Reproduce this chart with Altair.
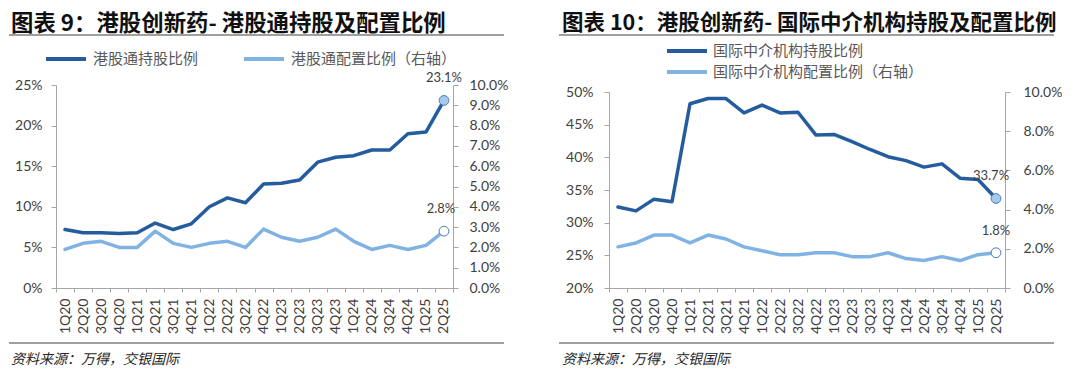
import altair as alt
import pandas as pd

quarters = ["1Q20", "2Q20", "3Q20", "4Q20", "1Q21", "2Q21", "3Q21", "4Q21",
            "1Q22", "2Q22", "3Q22", "4Q22", "1Q23", "2Q23", "3Q23", "4Q23",
            "1Q24", "2Q24", "3Q24", "4Q24", "1Q25", "2Q25"]

# Chart 9: Southbound holdings (left axis) and allocation (right axis), %
sb_hold = [7.2, 6.8, 6.8, 6.7, 6.8, 8.0, 7.2, 7.9, 10.0, 11.1, 10.5, 12.8,
           12.9, 13.3, 15.5, 16.1, 16.3, 17.0, 17.0, 19.0, 19.2, 23.1]
sb_alloc = [1.9, 2.2, 2.3, 2.0, 2.0, 2.8, 2.2, 2.0, 2.2, 2.3, 2.0, 2.9,
            2.5, 2.3, 2.5, 2.9, 2.3, 1.9, 2.1, 1.9, 2.1, 2.8]

# Chart 10: international brokers holdings (left axis) and allocation (right axis), %
intl_hold = [32.4, 31.8, 33.6, 33.2, 48.2, 49.0, 49.0, 46.8, 48.0, 46.8, 46.9, 43.4,
             43.5, 42.4, 41.2, 40.1, 39.5, 38.5, 39.0, 36.8, 36.6, 33.7]
intl_alloc = [2.1, 2.3, 2.7, 2.7, 2.3, 2.7, 2.5, 2.1, 1.9, 1.7, 1.7, 1.8,
              1.8, 1.6, 1.6, 1.8, 1.5, 1.4, 1.6, 1.4, 1.7, 1.8]

titles = ["图表 9：港股创新药- 港股通持股及配置比例",
          "图表 10：港股创新药- 国际中介机构持股及配置比例"]
series_names = [["港股通持股比例", "港股通配置比例（右轴）"],
                ["国际中介机构持股比例", "国际中介机构配置比例（右轴）"]]
left_ticks = [[0, 5, 10, 15, 20, 25], [20, 25, 30, 35, 40, 45, 50]]
right_ticks = [[0, 1, 2, 3, 4, 5, 6, 7, 8, 9, 10], [0, 2, 4, 6, 8, 10]]
source_text = "资料来源：万得，交银国际"

DARK = "#245C9E"
LIGHT = "#80B3E3"
AXIS_GREY = "#A6A6A6"
TXT = "#404040"
LEG_TXT = "#595959"
CJK = "Noto Sans CJK SC"
NUM = "Lato"


def long_df(s1, v1, s2, v2):
    rows = []
    for q, a in zip(quarters, v1):
        rows.append({"quarter": q, "series": s1, "value": a})
    for q, b in zip(quarters, v2):
        rows.append({"quarter": q, "series": s2, "value": b})
    return pd.DataFrame(rows)


def panel(title, tsize, s1, v1, s2, v2, ldom, lvals, rvals, yrange, width, height,
          legend_kw, title_x, rule_x1, rule_x2, lpad, dxs, manual_legend=None):
    df = long_df(s1, v1, s2, v2)
    x = alt.X("quarter:N", sort=quarters, bandPosition=0.5,
              scale=alt.Scale(type="band", paddingInner=0, paddingOuter=0),
              axis=alt.Axis(title=None, labelAngle=270, tickBand="extent",
                            domainColor=AXIS_GREY, tickColor=AXIS_GREY, tickSize=4,
                            labelPadding=6, labelFont=NUM, labelFontSize=14,
                            labelColor=TXT))
    if legend_kw is not None:
        legend = alt.Legend(title=None, orient="none", symbolType="stroke",
                            symbolSize=1600, symbolStrokeWidth=4,
                            labelFont=CJK, labelFontSize=15,
                            labelColor=LEG_TXT, labelOffset=5,
                            labelLimit=500, padding=0, **legend_kw)
    else:
        legend = None
    color = alt.Color("series:N",
                      scale=alt.Scale(domain=[s1, s2], range=[DARK, LIGHT]),
                      legend=legend)
    base = alt.Chart(df)

    yl = alt.Y("value:Q", scale=alt.Scale(domain=ldom, nice=False, zero=False, range=yrange),
               axis=alt.Axis(orient="left", values=lvals, labelExpr="datum.value + '%'",
                             title=None, grid=False, domainColor=AXIS_GREY,
                             tickColor=AXIS_GREY, tickSize=5, labelPadding=lpad,
                             labelFont=NUM, labelFontSize=14, labelColor=TXT))
    yr = alt.Y("value:Q", scale=alt.Scale(domain=[0, 10], nice=False, range=yrange),
               axis=alt.Axis(orient="right", values=rvals,
                             labelExpr="format(datum.value, '.1f') + '%'", title=None,
                             grid=False, domainColor=AXIS_GREY, tickColor=AXIS_GREY,
                             tickSize=5, labelPadding=lpad + 2, labelFont=NUM,
                             labelFontSize=14, labelColor=TXT))

    def sub(sname, y, fill, dx):
        d = base.transform_filter(alt.datum.series == sname)
        line = d.mark_line(strokeWidth=3.5, strokeJoin="round", strokeCap="round").encode(
            x=x, y=y, color=color)
        last = d.transform_filter(alt.datum.quarter == quarters[-1])
        pt = last.mark_point(filled=True, size=95, fill=fill, stroke="#4A7EBB",
                             strokeWidth=1, opacity=1).encode(x=x, y=y)
        lab = last.transform_calculate(
            label="format(datum.value, '.1f') + '%'"
        ).mark_text(font=NUM, fontSize=13, color=TXT, dy=-22, dx=dx).encode(
            x=x, y=y, text="label:N")
        return alt.layer(line, pt, lab)

    a = sub(s1, yl, "#A9C9EC", dxs[0])
    b = sub(s2, yr, "#FFFFFF", dxs[1])

    one = alt.Data(values=[{"a": 1}])
    t = alt.Chart(one).mark_text(text=title, font=CJK, fontSize=tsize, fontWeight="bold",
                                 align="left", baseline="middle", color="#111111").encode(
        x=alt.value(title_x), y=alt.value(-61))
    r1 = alt.Chart(one).mark_rule(color="#404040", strokeWidth=1).encode(
        x=alt.value(rule_x1), x2=alt.value(rule_x2), y=alt.value(-50))
    r2 = alt.Chart(one).mark_rule(color="#404040", strokeWidth=1).encode(
        x=alt.value(rule_x1), x2=alt.value(rule_x2), y=alt.value(258))
    src = alt.Chart(one).mark_text(text=source_text, font=CJK, fontSize=14,
                                   fontStyle="italic", align="left", baseline="middle",
                                   color="#262626").encode(
        x=alt.value(title_x), y=alt.value(275))

    layers = [a, b, t, r1, r2, src]
    if manual_legend is not None:
        lx, ly, dy = manual_legend
        for i, (sname, col) in enumerate([(s1, DARK), (s2, LIGHT)]):
            yy = ly + i * dy
            layers.append(alt.Chart(one).mark_rule(color=col, strokeWidth=4).encode(
                x=alt.value(lx), x2=alt.value(lx + 40), y=alt.value(yy)))
            layers.append(alt.Chart(one).mark_text(
                text=sname, font=CJK, fontSize=15, color=LEG_TXT, align="left",
                baseline="middle").encode(x=alt.value(lx + 46), y=alt.value(yy)))

    return alt.layer(*layers).resolve_scale(y="independent").properties(
        width=width, height=height)


left = panel(titles[0], 22.4, series_names[0][0], sb_hold, series_names[0][1], sb_alloc,
             [0, 25], left_ticks[0], right_ticks[0], [203, 0], 397, 203,
             dict(legendX=-12, legendY=-48, direction="horizontal", columns=2,
                  columnPadding=37),
             -45, -47, 448, 9, (0, -3))
right = panel(titles[1], 21.5, series_names[1][0], intl_hold, series_names[1][1], intl_alloc,
              [20, 50], left_ticks[1], right_ticks[1], [203, 7], 396, 203,
              None, -47, -50, 445, 11, (-5, 0), manual_legend=(58, -34, 21))

chart = alt.hconcat(left, right, spacing=50).resolve_scale(
    color="independent"
).resolve_legend(color="independent").properties(
    padding={"left": 0, "top": 5, "right": 0, "bottom": 0}
).configure_view(stroke=None)

chart.save("out.html", embed_options={"renderer": "svg", "actions": False})
